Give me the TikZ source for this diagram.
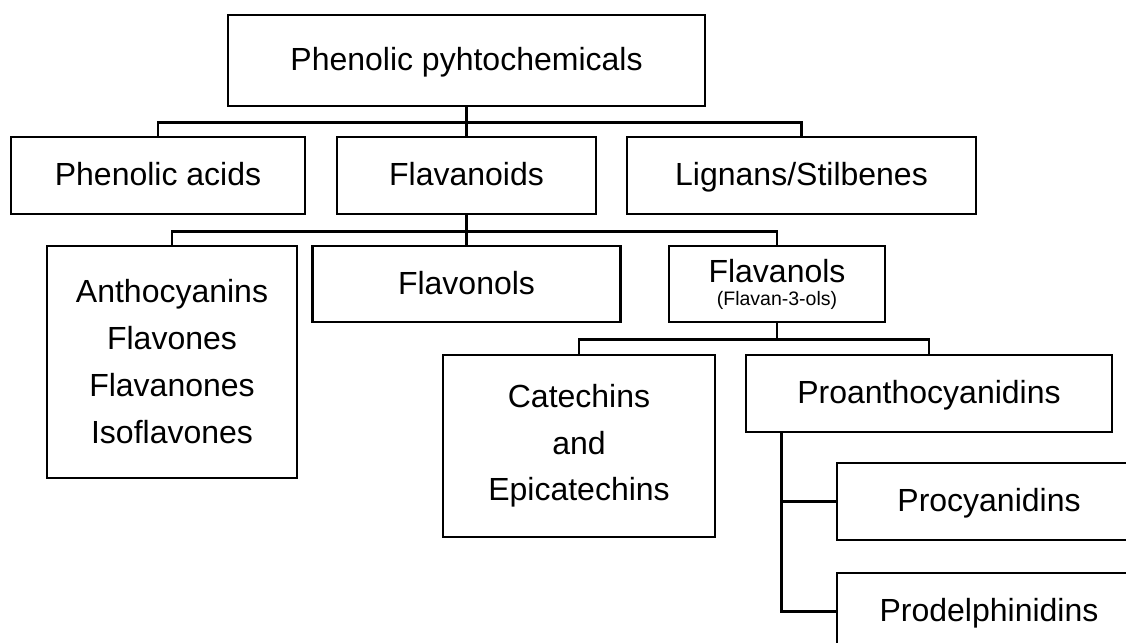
\documentclass[tikz,border=0pt]{standalone}
\usepackage{fontspec}
\setmainfont{Liberation Sans}
\begin{document}
\begin{tikzpicture}[x=1pt,y=-1pt,
  box/.style={draw, line width=2.8pt, rectangle, inner sep=0pt, align=center,
              font=\fontsize{32}{47}\selectfont},
  one/.style={text height=20pt, text depth=0pt},
  link/.style={line width=2.8pt}]
\useasboundingbox (0,0) rectangle (1126,642);
\clip (0,0) rectangle (1126,642);

\node[box, one, minimum width=477pt, minimum height=91pt] (top) at (466.5,60.5) {Phenolic pyhtochemicals};

\node[box, one, minimum width=294pt, minimum height=77pt] (pa) at (158,175.5) {Phenolic acids};
\node[box, one, minimum width=259pt, minimum height=77pt] (fl) at (466.5,175.5) {Flavanoids};
\node[box, one, minimum width=349pt, minimum height=77pt] (ls) at (801.5,175.5) {Lignans/Stilbenes};

\node[box, minimum width=250pt, minimum height=232pt] (an) at (172,362) {Anthocyanins\\Flavones\\Flavanones\\Isoflavones};
\node[box, one, minimum width=308pt, minimum height=76pt] (fv) at (466.5,284) {Flavonols};
\node[box, minimum width=216pt, minimum height=76pt, font=\fontsize{32}{23}\selectfont] (fa) at (777,284) {Flavanols\\{\fontsize{19.5}{23}\selectfont (Flavan-3-ols)}};

\node[box, minimum width=272pt, minimum height=182pt, font=\fontsize{32}{46.5}\selectfont] (ce) at (579,446) {Catechins\\and\\Epicatechins};
\node[box, one, minimum width=366pt, minimum height=77pt] (pr) at (929,393.5) {Proanthocyanidins};

\node[box, one, minimum width=304pt, minimum height=77pt] (pc) at (989,501.5) {Procyanidins};
\node[box, one, minimum width=304pt, minimum height=77pt] (pd) at (989,611.5) {Prodelphinidins};

% connectors
\draw[link] (top.south) -- ++(0,15) coordinate (j1);
\draw[link] (pa.north) |- (j1) -| (ls.north);
\draw[link] (j1) -- (fl.north);

\draw[link] (fl.south) -- ++(0,16) coordinate (j2);
\draw[link] (an.north) |- (j2) -| (fa.north);
\draw[link] (j2) -- (fv.north);

\draw[link] (fa.south) -- ++(0,16) coordinate (j3);
\draw[link] (ce.north) |- (j3) -| (pr.north);

\coordinate (j4) at ([xshift=37pt]pr.south west);
\draw[link] (j4) |- (pc.west);
\draw[link] (j4) |- (pd.west);
\end{tikzpicture}
\end{document}
